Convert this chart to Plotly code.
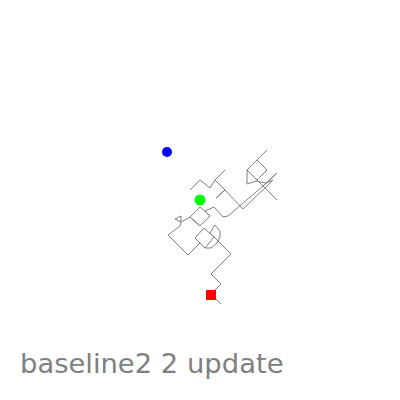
import plotly.graph_objects as go

walk_x = [190, 200, 210, 215, 225, 215, 225, 216, 225, 243, 273, 266, 256, 247, 247,
          257, 267, 257, 267, 257, 247, 257, 277, 263, 277, 263, 228, 223, 214, 205,
          210, 200, 190, 200, 210, 200, 190, 181, 175, 181, 181, 180, 168, 188, 200,
          205, 214, 204, 195, 200, 205, 211, 217, 220, 220, 215, 210, 231, 211, 221,
          211, 221]
walk_y_px = [190, 180, 188, 180, 170, 180, 190, 198, 190, 209, 180, 183, 181, 184, 170,
             160, 150, 160, 170, 180, 170, 180, 200, 186, 173, 186, 216, 217, 207, 211,
             216, 207, 217, 226, 216, 226, 217, 222, 219, 216, 222, 226, 235, 255, 243,
             248, 237, 228, 238, 243, 248, 248, 243, 237, 231, 225, 233, 254, 274, 284,
             294, 304]
walk_y = [400 - v for v in walk_y_px]

green_pt = (200, 400 - 200)
blue_pt = (167, 400 - 152)
red_pt = (211, 400 - 295)

title_text = "baseline2 2 update"

fig = go.Figure()
fig.add_trace(go.Scatter(x=walk_x, y=walk_y, mode="lines",
                         line=dict(color="#808080", width=1), showlegend=False,
                         hoverinfo="skip"))
fig.add_trace(go.Scatter(x=[green_pt[0]], y=[green_pt[1]], mode="markers",
                         marker=dict(color="#00ff00", size=11, symbol="circle"),
                         showlegend=False))
fig.add_trace(go.Scatter(x=[blue_pt[0]], y=[blue_pt[1]], mode="markers",
                         marker=dict(color="#0000ff", size=10, symbol="circle"),
                         showlegend=False))
fig.add_trace(go.Scatter(x=[red_pt[0]], y=[red_pt[1]], mode="markers",
                         marker=dict(color="#ff0000", size=10, symbol="square"),
                         showlegend=False))

fig.update_layout(
    width=400, height=400,
    margin=dict(l=0, r=0, t=0, b=0),
    paper_bgcolor="white", plot_bgcolor="white",
    xaxis=dict(range=[0, 400], visible=False),
    yaxis=dict(range=[0, 400], visible=False),
    annotations=[dict(text=title_text, x=18, y=400 - 381, xref="x", yref="y",
                      xanchor="left", yanchor="bottom", showarrow=False,
                      font=dict(family="DejaVu Sans", size=27.4, color="#808080"))],
)

fig.write_html("out.html")
